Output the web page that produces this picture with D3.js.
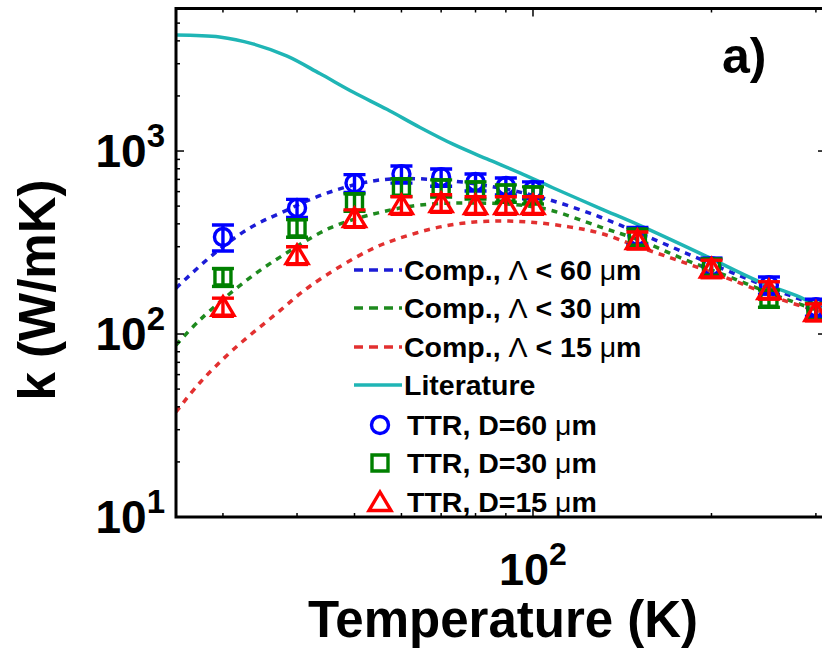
<!DOCTYPE html>
<html>
<head>
<meta charset="utf-8">
<script src="https://cdn.jsdelivr.net/npm/d3@7"></script>
<style>
  html, body { margin: 0; padding: 0; background: #fff; }
  svg { display: block; }
  text { font-family: "Liberation Sans", Arial, Helvetica, sans-serif; font-weight: bold; fill: #000; }
</style>
</head>
<body>
<svg id="chart" width="822" height="654"></svg>
<script>
// ---------------- data ----------------
const temps = [30, 40, 50, 60, 70, 80, 90, 100, 150, 200, 250, 300];
const kD60 = [339, 489, 668, 748, 720, 677, 644, 613, 345, 235, 185, 140];
const kD30 = [205, 380, 526, 635, 628, 612, 589, 575, 338, 232, 157, 133];
const kD15 = [141, 270, 430, 507, 520, 507, 507, 507, 326, 228, 174, 132];
const errD60 = [55, 55, 75, 80, 78, 72, 68, 65, 37, 25, 20, 15];
const errD30 = [23, 42, 58, 70, 68, 66, 64, 62, 36, 25, 17, 14];
const errD15 = [16, 30, 47, 56, 57, 56, 56, 56, 35, 25, 19, 14];

const litT = [25, 29.6, 33.7, 38.5, 43.7, 49.7, 56.7, 64.5, 73.3, 83.6, 95, 108, 130, 151, 191, 241, 282, 312];
const litK = [4305, 4200, 3850, 3300, 2650, 2100, 1690, 1345, 1090, 905, 760, 630, 485, 394, 277, 193, 159, 133];

const compT60 = [25, 28.8, 33.3, 37.5, 44.9, 55.2, 69.7, 88, 106.8, 129.7, 151, 181, 217, 264, 312];
const compK60 = [178, 270, 380, 458, 589, 695, 695, 628, 540, 436, 356, 277, 216, 168, 137];
const compT30 = [25, 27.4, 32.9, 37.5, 45.5, 54.6, 64.5, 78.3, 95, 106.8, 129.7, 151, 181, 217, 264, 312];
const compK30 = [87, 119, 197, 264, 380, 458, 507, 520, 507, 476, 385, 326, 254, 202, 157, 130];
const compT15 = [25, 27.4, 31.2, 37, 42.1, 53.1, 62, 72.5, 84.6, 98.8, 115, 129.7, 151, 181, 217, 264, 312];
const compK15 = [37.5, 54, 82, 130, 183, 288, 348, 394, 414, 409, 385, 356, 299, 244, 197, 153, 130];

const xDomain = [25, 312];
const yDomain = [10, 6010];
const xMajor = [100];
const xMinor = [30, 40, 50, 60, 70, 80, 90, 200, 300];
const yMajor = [10, 100, 1000];
const yMinor = [20, 30, 40, 50, 60, 70, 80, 90, 200, 300, 400, 500, 600, 700, 800, 900, 2000, 3000, 4000, 5000, 6000];
const xTickLabels = [{v: 100, base: "10", exp: "2"}];
const yTickLabels = [{v: 10, base: "10", exp: "1"}, {v: 100, base: "10", exp: "2"}, {v: 1000, base: "10", exp: "3"}];

const legendItems = [
  {type: "dash", color: "#1c1cd6", pre: "Comp., ", sym: "Λ", mid: " < 60 ", unit: "μ", post: "m"},
  {type: "dash", color: "#1e8a1e", pre: "Comp., ", sym: "Λ", mid: " < 30 ", unit: "μ", post: "m"},
  {type: "dash", color: "#e23030", pre: "Comp., ", sym: "Λ", mid: " < 15 ", unit: "μ", post: "m"},
  {type: "solid", color: "#1fb5b5", pre: "Literature", sym: "", mid: "", unit: "", post: ""},
  {type: "circle", color: "#0000ff", pre: "TTR, D=60 ", sym: "", mid: "", unit: "μ", post: "m"},
  {type: "square", color: "#008000", pre: "TTR, D=30 ", sym: "", mid: "", unit: "μ", post: "m"},
  {type: "triangle", color: "#ff0000", pre: "TTR, D=15 ", sym: "", mid: "", unit: "μ", post: "m"}
];

// ---------------- layout ----------------
const L = 176, R = 826, T = 8.5, B = 517;
const svg = d3.select("#chart");
const x = d3.scaleLog().domain(xDomain).range([L, R]);
const y = d3.scaleLog().domain(yDomain).range([B, T]);

const clip = svg.append("defs").append("clipPath").attr("id", "plotclip");
clip.append("rect").attr("x", L).attr("y", T).attr("width", R - L).attr("height", B - T);

const plot = svg.append("g").attr("clip-path", "url(#plotclip)");

const line = d3.line().x(d => x(d[0])).y(d => y(d[1])).curve(d3.curveCatmullRom.alpha(0.5));

function drawLine(ts, ks, color, dashed) {
  plot.append("path")
    .datum(ts.map((t, i) => [t, ks[i]]))
    .attr("d", line)
    .attr("fill", "none")
    .attr("stroke", color)
    .attr("stroke-width", 3.5)
    .attr("stroke-dasharray", dashed ? "6,6" : null);
}
drawLine(compT60, compK60, "#1c1cd6", true);
drawLine(compT30, compK30, "#1e8a1e", true);
drawLine(compT15, compK15, "#e23030", true);
drawLine(litT, litK, "#1fb5b5", false);

// markers
function markerPath(type, cx, cy) {
  if (type === "circle") {
    const r = 8.5;
    return `M${cx + r},${cy}A${r},${r} 0 1,1 ${cx - r},${cy}A${r},${r} 0 1,1 ${cx + r},${cy}Z`;
  }
  if (type === "square") {
    const h = 8;
    return `M${cx - h},${cy - h}H${cx + h}V${cy + h}H${cx - h}Z`;
  }
  const w = 11, hh = 10;
  return `M${cx},${cy - hh}L${cx + w},${cy + hh * 0.85}L${cx - w},${cy + hh * 0.85}Z`;
}

function drawSeries(vals, errs, color, type) {
  const g = plot.append("g").attr("stroke", color).attr("stroke-width", 3.4).attr("fill", "none");
  temps.forEach((t, i) => {
    const cx = x(t), yl = y(vals[i] - errs[i]), yh = y(vals[i] + errs[i]);
    g.append("line").attr("x1", cx).attr("x2", cx).attr("y1", yl).attr("y2", yh);
    g.append("line").attr("x1", cx - 11).attr("x2", cx + 11).attr("y1", yl).attr("y2", yl);
    g.append("line").attr("x1", cx - 11).attr("x2", cx + 11).attr("y1", yh).attr("y2", yh);
    g.append("path").attr("d", markerPath(type, cx, y(vals[i])));
  });
}
drawSeries(kD60, errD60, "#0000ff", "circle");
drawSeries(kD30, errD30, "#008000", "square");
drawSeries(kD15, errD15, "#ff0000", "triangle");

// frame + ticks
const axes = svg.append("g").attr("stroke", "#000");
axes.append("rect").attr("x", L).attr("y", T).attr("width", R - L).attr("height", B - T)
  .attr("fill", "none").attr("stroke-width", 3);
function xt(v, len) {
  axes.append("line").attr("x1", x(v)).attr("x2", x(v)).attr("y1", B).attr("y2", B - len).attr("stroke-width", 1.5);
  axes.append("line").attr("x1", x(v)).attr("x2", x(v)).attr("y1", T).attr("y2", T + len).attr("stroke-width", 1.5);
}
function yt(v, len) {
  axes.append("line").attr("y1", y(v)).attr("y2", y(v)).attr("x1", L).attr("x2", L + len).attr("stroke-width", 1.5);
  axes.append("line").attr("y1", y(v)).attr("y2", y(v)).attr("x1", R).attr("x2", R - len).attr("stroke-width", 1.5);
}
xMinor.forEach(v => xt(v, 4));
xMajor.forEach(v => xt(v, 8));
yMinor.forEach(v => yt(v, 4));
yMajor.forEach(v => yt(v, 8));

// tick labels
yTickLabels.forEach(d => {
  const t = svg.append("text").attr("x", 165).attr("y", y(d.v) + 16)
    .attr("text-anchor", "end").style("font-size", "46px");
  t.append("tspan").text(d.base);
  t.append("tspan").attr("dy", -20).style("font-size", "33px").text(d.exp);
});
xTickLabels.forEach(d => {
  const t = svg.append("text").attr("x", x(d.v)).attr("y", 585)
    .attr("text-anchor", "middle").style("font-size", "45px");
  t.append("tspan").text(d.base);
  t.append("tspan").attr("dy", -20).style("font-size", "32px").text(d.exp);
});

// axis titles
svg.append("text").attr("x", 503).attr("y", 637).attr("text-anchor", "middle")
  .style("font-size", "51px").text("Temperature (K)");
svg.append("text").attr("transform", "translate(55,290) rotate(-90)").attr("text-anchor", "middle")
  .style("font-size", "51px").text("k (W/mK)");

// panel label
svg.append("text").attr("x", 722).attr("y", 73).style("font-size", "50px").text("a)");

// legend
const rowY = [270, 308, 347, 385, 425, 463, 502];
const lg = svg.append("g");
legendItems.forEach((it, i) => {
  const cy = rowY[i];
  if (it.type === "dash" || it.type === "solid") {
    lg.append("line").attr("x1", 354).attr("x2", 402).attr("y1", cy).attr("y2", cy)
      .attr("stroke", it.color).attr("stroke-width", 3.5)
      .attr("stroke-dasharray", it.type === "dash" ? "9,6" : null);
  } else {
    lg.append("path").attr("d", markerPath(it.type, 380, cy))
      .attr("fill", "none").attr("stroke", it.color).attr("stroke-width", 3.4);
  }
  const tx = it.type === "dash" || it.type === "solid" ? 404 : 407;
  const t = lg.append("text").attr("x", tx).attr("y", cy + 10).style("font-size", "28.5px");
  t.append("tspan").text(it.pre);
  if (it.sym) t.append("tspan").style("font-weight", "normal").text(it.sym);
  if (it.mid) t.append("tspan").text(it.mid);
  if (it.unit) t.append("tspan").style("font-weight", "normal").text(it.unit);
  if (it.post) t.append("tspan").text(it.post);
});
</script>
</body>
</html>
